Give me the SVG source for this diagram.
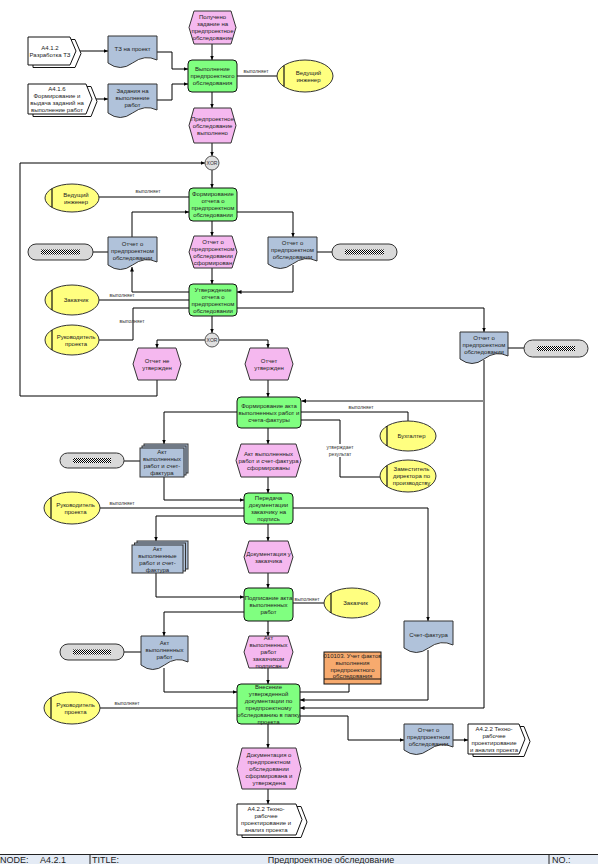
<svg xmlns="http://www.w3.org/2000/svg" width="598" height="864" viewBox="0 0 598 864">
<style>
.t{font-family:"Liberation Sans",Arial,sans-serif;font-size:6px;fill:#222;text-anchor:middle}
.l{font-family:"Liberation Sans",Arial,sans-serif;font-size:5px;fill:#333;text-anchor:middle}
.ev{fill:#f5b8ef;stroke:#333;stroke-width:1}
.fn{fill:#80ff80;stroke:#111;stroke-width:1}
.doc{fill:#b0c2da;stroke:#333;stroke-width:1}
.org{fill:#ffff80;stroke:#333;stroke-width:1}
.ol{stroke:#111;stroke-width:1.2}
.itf{fill:#fff;stroke:#111;stroke-width:1}
.pill{fill:#d9d9d9;stroke:#333;stroke-width:1}
.xor{fill:#e0e0e0;stroke:#555;stroke-width:1}
.c{fill:none;stroke:#000;stroke-width:1}
.g{fill:none;stroke:#888;stroke-width:2}
.ft{font-family:"Liberation Sans",Arial,sans-serif;font-size:9px;fill:#222}
</style>
<defs>
<marker id="a" markerWidth="5" markerHeight="5" refX="4.5" refY="2.5" orient="auto" markerUnits="userSpaceOnUse"><path d="M0,0.5 L4.5,2.5 L0,4.5 z" fill="#000"/></marker>
<pattern id="chk" width="2" height="2" patternUnits="userSpaceOnUse"><rect width="2" height="2" fill="#fff"/><rect width="1" height="1" fill="#000"/><rect x="1" y="1" width="1" height="1" fill="#000"/></pattern>
</defs>

<g id="connectors">
<path class="c" d="M76,51 H108" marker-end="url(#a)"/>
<path class="c" d="M157,52 H172 V69 H188" marker-end="url(#a)"/>
<path class="c" d="M92,99 H108" marker-end="url(#a)"/>
<path class="c" d="M157,100 H172 V84 H188" marker-end="url(#a)"/>
<path class="c" d="M212,44 V60" marker-end="url(#a)"/>
<path class="c" d="M237,76 H277"/>
<text class="l" x="256" y="73">выполняет</text>
<path class="c" d="M212,92 V108" marker-end="url(#a)"/>
<path class="c" d="M212,143 V156" marker-end="url(#a)"/>
<path class="c" d="M157,380 V396 H20 V163 H205" marker-end="url(#a)"/>
<path class="c" d="M212,170 V188" marker-end="url(#a)"/>
<path class="c" d="M99,197 H189"/>
<text class="l" x="148" y="193">выполняет</text>
<path class="c" d="M132,237 V212 H189" marker-end="url(#a)"/>
<path class="c" d="M237,212 H293 V237" marker-end="url(#a)"/>
<path class="c" d="M212,221 V236" marker-end="url(#a)"/>
<path class="c" d="M212,268 V284" marker-end="url(#a)"/>
<path class="c" d="M189,292 H132 V267" marker-end="url(#a)"/>
<path class="c" d="M293,265 V292 H237" marker-end="url(#a)"/>
<path class="c" d="M93,252 H108"/>
<path class="c" d="M317,252 H332"/>
<path class="c" d="M99,300 H189"/>
<text class="l" x="122" y="297">выполняет</text>
<path class="c" d="M99,340 H133 V308 H189"/>
<text class="l" x="132" y="323">выполняет</text>
<path class="c" d="M237,308 H484 V332" marker-end="url(#a)"/>
<path class="c" d="M508,348 H524"/>
<path class="c" d="M212,316 V333" marker-end="url(#a)"/>
<path class="c" d="M205,340 H157 V348" marker-end="url(#a)"/>
<path class="c" d="M219,340 H268 V348" marker-end="url(#a)"/>
<path class="c" d="M268,380 V397" marker-end="url(#a)"/>
<path class="c" d="M484,360 V708 H300" marker-end="url(#a)"/>
<path class="g" d="M484,401 H305"/>
<path class="c" d="M306,401 H301.5" marker-end="url(#a)"/>
<path class="c" d="M301,412 H408 V421"/>
<text class="l" x="361" y="409">выполняет</text>
<path class="c" d="M301,420 H340 V477 H380"/>
<rect x="326" y="444" width="28" height="13" fill="#fff"/>
<text class="l" x="340" y="449">утверждает</text>
<text class="l" x="340" y="456">результат</text>
<path class="c" d="M237,412 H164 V444" marker-end="url(#a)"/>
<path class="c" d="M268,428 V444" marker-end="url(#a)"/>
<path class="c" d="M124,461 H140"/>
<path class="c" d="M164,477 V500 H244" marker-end="url(#a)"/>
<path class="c" d="M268,477 V493" marker-end="url(#a)"/>
<path class="c" d="M100,508 H244"/>
<text class="l" x="122" y="505">выполняет</text>
<path class="c" d="M244,516 H156 V541" marker-end="url(#a)"/>
<path class="c" d="M293,508 H428 V621" marker-end="url(#a)"/>
<path class="c" d="M268,524 V541" marker-end="url(#a)"/>
<path class="c" d="M156,573 V597 H244" marker-end="url(#a)"/>
<path class="c" d="M268,573 V588" marker-end="url(#a)"/>
<path class="c" d="M293,603 H324"/>
<text class="l" x="307" y="601">выполняет</text>
<path class="c" d="M244,612 H164 V636" marker-end="url(#a)"/>
<path class="c" d="M124,652 H141"/>
<path class="c" d="M164,668 V692 H237" marker-end="url(#a)"/>
<path class="c" d="M268,621 V636" marker-end="url(#a)"/>
<path class="c" d="M268,668 V684" marker-end="url(#a)"/>
<path class="c" d="M100,708 H237"/>
<text class="l" x="127" y="705">выполняет</text>
<path class="c" d="M349,684 V692 H300"/>
<path class="c" d="M428,650 V700 H300" marker-end="url(#a)"/>
<path class="c" d="M300,716 H348 V740 H404" marker-end="url(#a)"/>
<path class="c" d="M453,740 H468" marker-end="url(#a)"/>
<path class="c" d="M268,724 V748" marker-end="url(#a)"/>
<path class="c" d="M268,789 V804" marker-end="url(#a)"/>
</g>

<g id="E1"><polygon class="ev" points="194,11 231,11 236,27.5 231,44 194,44 189,27.5"/>
<text class="t" x="212.5" y="19">Получено</text><text class="t" x="212.5" y="26">задание на</text><text class="t" x="212.5" y="33">предпроектное</text><text class="t" x="212.5" y="40">обследование</text></g>

<g id="I1"><path class="itf" d="M33,39.5 H75 L81,53.5 L75,67.5 H33 Z"/><path class="itf" d="M28,37 H70 L76,51 L70,65 H28 Z"/>
<text class="t" x="50" y="49.5">A4.1.2</text><text class="t" x="50" y="56.5">Разработка ТЗ</text></g>

<g id="D1"><path class="doc" d="M108,36 H157 V60 Q144.75,54 132.5,63 T108,63 Z"/>
<text class="t" x="132.5" y="51">ТЗ на проект</text></g>

<g id="F1"><rect class="fn" x="188" y="60" width="49" height="32" rx="4"/>
<text class="t" x="212.5" y="71">Выполнение</text><text class="t" x="212.5" y="78">предпроектного</text><text class="t" x="212.5" y="85">обследования</text></g>

<g id="O1"><ellipse class="org" cx="305" cy="76" rx="28" ry="16"/><line class="ol" x1="284" y1="65.4" x2="284" y2="86.6"/>
<text class="t" x="308.5" y="74.5">Ведущий</text><text class="t" x="308.5" y="81.5">инженер</text></g>

<g id="I2"><path class="itf" d="M33,86.5 H91 L97,101.5 L91,116.5 H33 Z"/><path class="itf" d="M28,84 H86 L92,99 L86,114 H28 Z"/>
<text class="t" x="57" y="90.5">A4.1.6</text><text class="t" x="57" y="97.5">Формирование и</text><text class="t" x="57" y="104.5">выдача заданий на</text><text class="t" x="57" y="111.5">выполнение работ</text></g>

<g id="D2"><path class="doc" d="M108,84 H157 V110 Q144.75,104 132.5,113 T108,113 Z"/>
<text class="t" x="132.5" y="93">Задания на</text><text class="t" x="132.5" y="100">выполнение</text><text class="t" x="132.5" y="107">работ</text></g>

<g id="E2"><polygon class="ev" points="194,108 231,108 236,125.5 231,143 194,143 189,125.5"/>
<text class="t" x="212.5" y="120.5">Предпроектное</text><text class="t" x="212.5" y="127.5">обследование</text><text class="t" x="212.5" y="134.5">выполнено</text></g>

<g id="X1"><circle class="xor" cx="212" cy="163" r="7"/><text class="l" x="212" y="165">XOR</text></g>

<g id="O2"><ellipse class="org" cx="72" cy="198" rx="27" ry="14"/><line class="ol" x1="52" y1="188.6" x2="52" y2="207.4"/>
<text class="t" x="76" y="196.5">Ведущий</text><text class="t" x="76" y="203.5">инженер</text></g>

<g id="F2"><rect class="fn" x="189" y="188" width="48" height="33" rx="4"/>
<text class="t" x="213" y="196">Формирование</text><text class="t" x="213" y="203">отчета о</text><text class="t" x="213" y="210">предпроектном</text><text class="t" x="213" y="217">обследовании</text></g>

<g id="P1"><rect class="pill" x="28" y="244" width="65" height="16" rx="8"/><rect x="41" y="249.5" width="39" height="5" fill="url(#chk)"/></g>

<g id="D3"><path class="doc" d="M108,237 H157 V262 Q144.75,256 132.5,265 T108,265 Z"/>
<text class="t" x="132.5" y="245.5">Отчет о</text><text class="t" x="132.5" y="252.5">предпроектном</text><text class="t" x="132.5" y="259.5">обследовании</text></g>

<g id="E3"><polygon class="ev" points="194,236 232,236 237,252 232,268 194,268 189,252"/>
<text class="t" x="213" y="243.5">Отчет о</text><text class="t" x="213" y="250.5">предпроектном</text><text class="t" x="213" y="257.5">обследовании</text><text class="t" x="213" y="264.5">сформирован</text></g>

<g id="D4"><path class="doc" d="M268,237 H317 V261 Q304.75,255 292.5,264 T268,264 Z"/>
<text class="t" x="292.5" y="245">Отчет о</text><text class="t" x="292.5" y="252">предпроектном</text><text class="t" x="292.5" y="259">обследовании</text></g>

<g id="P2"><rect class="pill" x="332" y="244" width="65" height="16" rx="8"/><rect x="345" y="249.5" width="39" height="5" fill="url(#chk)"/></g>

<g id="O3"><ellipse class="org" cx="72" cy="300" rx="27" ry="15"/><line class="ol" x1="52" y1="290" x2="52" y2="310"/>
<text class="t" x="76" y="302">Заказчик</text></g>

<g id="F3"><rect class="fn" x="189" y="284" width="48" height="32" rx="4"/>
<text class="t" x="213" y="291.5">Утверждение</text><text class="t" x="213" y="298.5">отчета о</text><text class="t" x="213" y="305.5">предпроектном</text><text class="t" x="213" y="312.5">обследовании</text></g>

<g id="O4"><ellipse class="org" cx="72" cy="340" rx="27" ry="15"/><line class="ol" x1="52" y1="330" x2="52" y2="350"/>
<text class="t" x="76" y="338.5">Руководитель</text><text class="t" x="76" y="345.5">проекта</text></g>

<g id="D5"><path class="doc" d="M460,332 H508 V356 Q496,350 484,359 T460,359 Z"/>
<text class="t" x="484" y="340">Отчет о</text><text class="t" x="484" y="347">предпроектном</text><text class="t" x="484" y="354">обследовании</text></g>

<g id="P3"><rect class="pill" x="524" y="340" width="64" height="17" rx="8.5"/><rect x="537" y="346" width="38" height="5" fill="url(#chk)"/></g>

<g id="X2"><circle class="xor" cx="212" cy="340" r="7"/><text class="l" x="212" y="342">XOR</text></g>

<g id="E4"><polygon class="ev" points="138,348 176,348 181,364 176,380 138,380 133,364"/>
<text class="t" x="157" y="362.5">Отчет не</text><text class="t" x="157" y="369.5">утвержден</text></g>

<g id="E5"><polygon class="ev" points="250,348 288,348 293,364 288,380 250,380 245,364"/>
<text class="t" x="269" y="362.5">Отчет</text><text class="t" x="269" y="369.5">утвержден</text></g>

<g id="F4"><rect class="fn" x="237" y="397" width="64" height="31" rx="4"/>
<text class="t" x="269" y="407.5">Формирование акта</text><text class="t" x="269" y="414.5">выполненных работ и</text><text class="t" x="269" y="421.5">счета-фактуры</text></g>

<g id="O5"><ellipse class="org" cx="408" cy="436" rx="28" ry="15"/><line class="ol" x1="387" y1="426" x2="387" y2="446"/>
<text class="t" x="411.5" y="438">Бухгалтер</text></g>

<g id="O6"><ellipse class="org" cx="408" cy="476" rx="28" ry="16"/><line class="ol" x1="387" y1="465.4" x2="387" y2="486.6"/>
<text class="t" x="411.5" y="471">Заместитель</text><text class="t" x="411.5" y="478">директора по</text><text class="t" x="411.5" y="485">производству</text></g>

<g id="P4"><rect class="pill" x="60" y="453" width="64" height="15" rx="7.5"/><rect x="73" y="458" width="38" height="5" fill="url(#chk)"/></g>

<g id="M1"><rect class="doc" x="144" y="444" width="44" height="29"/><rect class="doc" x="142" y="446" width="44" height="29"/><rect class="doc" x="140" y="448" width="44" height="29"/>
<text class="t" x="162" y="454">Акт</text><text class="t" x="162" y="461">выполненных</text><text class="t" x="162" y="468">работ и счет-</text><text class="t" x="162" y="475">фактура</text></g>

<g id="E6"><polygon class="ev" points="241,444 296,444 301,460.5 296,477 241,477 236,460.5"/>
<text class="t" x="268.5" y="455.5">Акт выполненных</text><text class="t" x="268.5" y="462.5">работ и счет-фактура</text><text class="t" x="268.5" y="469.5">сформированы</text></g>

<g id="O7"><ellipse class="org" cx="72" cy="508" rx="28" ry="16"/><line class="ol" x1="51" y1="497.4" x2="51" y2="518.6"/>
<text class="t" x="75.5" y="506.5">Руководитель</text><text class="t" x="75.5" y="513.5">проекта</text></g>

<g id="F5"><rect class="fn" x="244" y="493" width="49" height="31" rx="4"/>
<text class="t" x="268.5" y="500">Передача</text><text class="t" x="268.5" y="507">документации</text><text class="t" x="268.5" y="514">заказчику на</text><text class="t" x="268.5" y="521">подпись</text></g>

<g id="M2"><rect class="doc" x="137" y="541" width="51" height="28"/><rect class="doc" x="134.5" y="543" width="51" height="28"/><rect class="doc" x="132" y="545" width="51" height="28"/>
<text class="t" x="157.5" y="550.5">Акт</text><text class="t" x="157.5" y="557.5">выполненные</text><text class="t" x="157.5" y="564.5">работ и счет-</text><text class="t" x="157.5" y="571.5">фактура</text></g>

<g id="E7"><polygon class="ev" points="249,541 288,541 293,557 288,573 249,573 244,557"/>
<text class="t" x="268.5" y="555.5">Документация у</text><text class="t" x="268.5" y="562.5">заказчика</text></g>

<g id="F6"><rect class="fn" x="244" y="588" width="49" height="33" rx="4"/>
<text class="t" x="268.5" y="599.5">Подписание акта</text><text class="t" x="268.5" y="606.5">выполненных</text><text class="t" x="268.5" y="613.5">работ</text></g>

<g id="O8"><ellipse class="org" cx="352" cy="603" rx="28" ry="15"/><line class="ol" x1="331" y1="593" x2="331" y2="613"/>
<text class="t" x="355.5" y="605">Заказчик</text></g>

<g id="D7"><path class="doc" d="M404,621 H453 V645 Q440.75,639 428.5,648 T404,648 Z"/>
<text class="t" x="428.5" y="636.5">Счет-фактура</text></g>

<g id="P5"><rect class="pill" x="60" y="644" width="64" height="16" rx="8"/><rect x="73" y="649.5" width="38" height="5" fill="url(#chk)"/></g>

<g id="D6"><path class="doc" d="M141,636 H188 V662 Q176.25,656 164.5,665 T141,665 Z"/>
<text class="t" x="164.5" y="645">Акт</text><text class="t" x="164.5" y="652">выполненных</text><text class="t" x="164.5" y="659">работ</text></g>

<g id="E8"><polygon class="ev" points="249,636 288,636 293,652 288,668 249,668 244,652"/>
<text class="t" x="268.5" y="640">Акт</text><text class="t" x="268.5" y="647">выполненных</text><text class="t" x="268.5" y="654">работ</text><text class="t" x="268.5" y="661">заказчиком</text><text class="t" x="268.5" y="668">подписан</text></g>

<g id="ORG1"><rect x="324" y="652" width="57" height="32" fill="#f7aa6e" stroke="#111"/><line x1="324" y1="679" x2="381" y2="679" stroke="#111"/>
<text class="t" x="352.5" y="657.5">010103. Учет фактов</text><text class="t" x="352.5" y="664.5">выполнения</text><text class="t" x="352.5" y="671.5">предпроектного</text><text class="t" x="352.5" y="678">обследования</text></g>

<g id="F7"><rect class="fn" x="237" y="684" width="63" height="40" rx="4"/>
<text class="t" x="268.5" y="688.5">Внесение</text><text class="t" x="268.5" y="695.5">утвержденной</text><text class="t" x="268.5" y="702.5">документации по</text><text class="t" x="268.5" y="709.5">предпроектному</text><text class="t" x="268.5" y="716.5">обследованию в папку</text><text class="t" x="268.5" y="723.5">проекта</text></g>

<g id="O9"><ellipse class="org" cx="72" cy="708" rx="28" ry="16"/><line class="ol" x1="51" y1="697.4" x2="51" y2="718.6"/>
<text class="t" x="75.5" y="706.5">Руководитель</text><text class="t" x="75.5" y="713.5">проекта</text></g>

<g id="D8"><path class="doc" d="M404,724 H453 V747 Q440.75,741 428.5,750 T404,750 Z"/>
<text class="t" x="428.5" y="731.5">Отчет о</text><text class="t" x="428.5" y="738.5">предпроектном</text><text class="t" x="428.5" y="745.5">обследовании</text></g>

<g id="I4"><path class="itf" d="M473,726.5 H524 L530,741.5 L524,756.5 H473 Z"/><path class="itf" d="M468,724 H519 L525,739 L519,754 H468 Z"/>
<text class="t" x="494" y="730.5">A4.2.2 Техно-</text><text class="t" x="494" y="737.5">рабочее</text><text class="t" x="494" y="744.5">проектирование</text><text class="t" x="494" y="751.5">и анализ проекта</text></g>

<g id="E9"><polygon class="ev" points="242,748 296,748 301,768.5 296,789 242,789 237,768.5"/>
<text class="t" x="269" y="756.5">Документация о</text><text class="t" x="269" y="763.5">предпроектном</text><text class="t" x="269" y="770.5">обследовании</text><text class="t" x="269" y="777.5">сформирована и</text><text class="t" x="269" y="784.5">утверждена</text></g>

<g id="I3"><path class="itf" d="M242,806.5 H301 L307,822 L301,837.5 H242 Z"/><path class="itf" d="M237,804 H296 L302,819.5 L296,835 H237 Z"/>
<text class="t" x="266" y="811">A4.2.2 Техно-</text><text class="t" x="266" y="818">рабочее</text><text class="t" x="266" y="825">проектирование и</text><text class="t" x="266" y="832">анализ проекта</text></g>

<g id="footer"><rect x="0" y="854" width="598" height="10" fill="#e4ebf5"/><line x1="0" y1="854.5" x2="598" y2="854.5" stroke="#222"/>
<line x1="90" y1="854" x2="90" y2="864" stroke="#222"/><line x1="549" y1="854" x2="549" y2="864" stroke="#222"/>
<text class="ft" x="0" y="863">NODE:</text><text class="ft" x="40" y="863">A4.2.1</text><text class="ft" x="92" y="863">TITLE:</text>
<text class="ft" x="331" y="863" text-anchor="middle">Предпроектное обследование</text><text class="ft" x="552" y="863">NO.:</text></g>
</svg>
